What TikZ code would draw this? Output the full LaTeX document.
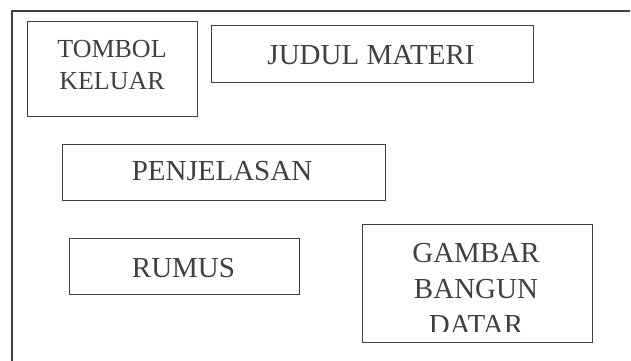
\documentclass[tikz,border=0pt]{standalone}
\usepackage{fontspec}
\setmainfont{Liberation Serif}
\definecolor{ink}{HTML}{404040}
\tikzset{
  box/.style={draw=ink, line width=1pt, rectangle, inner sep=0pt, fill=none},
  lbl/.style={anchor=base, inner sep=0pt, text=ink, font=\fontsize{29}{36}\selectfont},
  lblsmall/.style={anchor=base, inner sep=0pt, text=ink, font=\fontsize{26}{32}\selectfont},
  frame/.style={draw=ink, line width=2pt}
}
\begin{document}
\begin{tikzpicture}[x=1pt,y=-1pt]
\useasboundingbox (0,0) rectangle (631,360);
% outer frame (partially visible)
\coordinate (ftop) at (630,11);
\coordinate (fcorner) at (12,11);
\coordinate (fbot) at (12,362);
\draw[frame] (ftop) -- (fcorner) -- (fbot);
% boxes
\node[box, minimum width=170pt, minimum height=95pt] (tombol) at (112,68.5) {};
\node[box, minimum width=322pt, minimum height=57pt] (judul) at (372,53.5) {};
\node[box, minimum width=323pt, minimum height=56pt] (penj) at (223.5,172) {};
\node[box, minimum width=230pt, minimum height=56pt] (rumus) at (184,266) {};
\node[box, minimum width=230pt, minimum height=118pt] (gambar) at (477,283) {};
% texts
\node[lblsmall] (t1) at (112,57) {TOMBOL};
\node[lblsmall] (t2) at (112,89) {KELUAR};
\node[lbl] (tj) at (371,64) {JUDUL MATERI};
\node[lbl] (tp) at (222,180) {PENJELASAN};
\node[lbl] (tr) at (183.5,277) {RUMUS};
\node[lbl] (g1) at (476,262) {GAMBAR};
\node[lbl] (g2) at (476,298) {BANGUN};
\begin{scope}
\clip (363,300) rectangle (591,331);
\node[lbl] (g3) at (476,334) {DATAR};
\end{scope}
\end{tikzpicture}
\end{document}
